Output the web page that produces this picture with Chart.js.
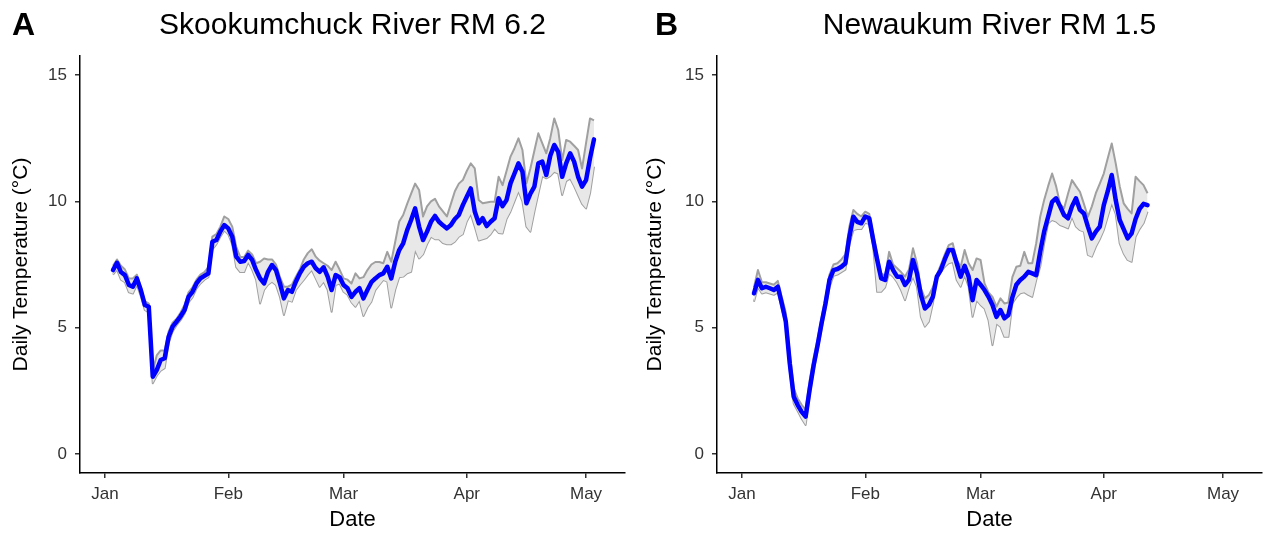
<!DOCTYPE html>
<html>
<head>
<meta charset="utf-8">
<script src="https://cdn.jsdelivr.net/npm/chart.js@4.4.1/dist/chart.umd.min.js"></script>
<style>
  html, body { margin: 0; padding: 0; background: #fff; }
  #wrap { position: relative; width: 1268px; height: 533px; }
  canvas { position: absolute; top: 0; }
</style>
</head>
<body>
<div id="wrap">
  <canvas id="chartA" width="634" height="533" style="left:0"></canvas>
  <canvas id="chartB" width="634" height="533" style="left:634px"></canvas>
</div>
<script>
// month ticks, as day offsets from Jan 1
const monthLabels = ['Jan', 'Feb', 'Mar', 'Apr', 'May'];
const monthDays = [0, 31, 60, 91, 121];
const yTicks = [0, 5, 10, 15];

// Skookumchuck River RM 6.2, daily values from Jan 3 (day 2)
const startDayA = 2;
const meanA = [7.28, 7.57, 7.20, 7.08, 6.69, 6.62, 6.95, 6.49, 5.90, 5.83,
  3.06, 3.32, 3.72, 3.79, 4.64, 5.04, 5.24, 5.45, 5.70, 6.22,
  6.42, 6.75, 6.95, 7.05, 7.15, 8.40, 8.47, 8.80, 9.06, 8.93,
  8.60, 7.81, 7.61, 7.64, 7.88, 7.68, 7.28, 6.95, 6.75, 7.21,
  7.48, 7.28, 6.75, 6.16, 6.49, 6.42, 6.82, 7.15, 7.41, 7.55,
  7.61, 7.35, 7.21, 7.39, 7.02, 6.49, 7.08, 7.00, 6.69, 6.56,
  6.22, 6.42, 6.56, 6.16, 6.49, 6.80, 6.95, 7.08, 7.15, 7.41,
  6.95, 7.61, 8.07, 8.34, 8.86, 9.26, 9.72, 9.00, 8.47, 8.80,
  9.19, 9.42, 9.19, 9.05, 8.93, 9.06, 9.30, 9.46, 9.85, 10.18,
  10.51, 9.60, 9.13, 9.33, 9.02, 9.19, 9.33, 10.12, 9.81, 10.05,
  10.71, 11.10, 11.50, 11.17, 9.92, 10.30, 10.58, 11.50, 11.57, 11.04,
  11.80, 12.23, 11.96, 10.97, 11.50, 11.90, 11.57, 10.97, 10.58, 10.84,
  11.70, 12.45];
const maxA = [7.45, 7.70, 7.45, 7.30, 6.95, 6.95, 7.10, 6.60, 6.05, 5.95,
  3.30, 3.90, 4.10, 4.10, 4.85, 5.20, 5.35, 5.60, 5.90, 6.40,
  6.60, 6.90, 7.10, 7.20, 7.40, 8.60, 8.70, 9.00, 9.40, 9.30,
  9.00, 8.20, 7.80, 7.80, 8.05, 7.90, 7.55, 7.61, 7.74, 7.70,
  7.70, 7.50, 7.00, 6.62, 6.62, 6.70, 7.02, 7.30, 7.70, 7.95,
  8.10, 7.81, 7.65, 7.55, 7.45, 7.28, 7.61, 7.30, 6.95, 6.90,
  6.75, 7.15, 6.95, 7.00, 7.28, 7.50, 7.60, 7.60, 7.55, 8.00,
  7.61, 8.40, 9.20, 9.46, 9.90, 10.30, 10.70, 10.45, 9.40, 9.80,
  10.00, 10.10, 9.80, 9.60, 9.40, 9.90, 10.40, 10.70, 10.84, 11.20,
  11.50, 11.30, 10.05, 9.92, 9.95, 9.98, 9.98, 10.97, 10.64, 11.20,
  11.77, 12.10, 12.49, 12.03, 10.71, 11.30, 12.00, 12.69, 12.29, 11.90,
  12.50, 13.28, 12.82, 11.63, 12.43, 12.36, 12.20, 12.03, 11.30, 12.30,
  13.28, 13.20];
const minA = [7.10, 7.30, 6.90, 6.80, 6.40, 6.35, 6.70, 6.25, 5.70, 5.60,
  2.80, 3.10, 3.30, 3.40, 4.40, 4.85, 5.10, 5.30, 5.55, 6.00,
  6.20, 6.55, 6.75, 6.90, 7.00, 8.10, 8.30, 8.60, 8.85, 8.70,
  8.30, 7.40, 7.20, 7.20, 7.60, 7.30, 6.90, 5.96, 6.49, 6.70,
  6.82, 6.69, 6.22, 5.50, 6.09, 6.03, 6.49, 6.70, 6.89, 7.10,
  7.28, 6.95, 6.62, 6.82, 6.50, 5.63, 6.69, 6.75, 6.42, 6.30,
  6.00, 5.83, 6.09, 5.46, 5.80, 6.03, 6.49, 6.69, 6.89, 6.82,
  5.80, 6.50, 7.00, 7.02, 7.15, 7.21, 8.07, 7.74, 7.90, 8.30,
  8.60, 8.50, 8.50, 8.35, 8.30, 8.30, 8.40, 8.60, 8.70, 9.20,
  9.50, 9.00, 8.45, 8.50, 8.55, 8.70, 8.93, 8.75, 8.73, 9.30,
  9.60, 10.00, 10.40, 10.00, 9.00, 8.80, 9.59, 10.30, 11.00, 10.91,
  11.00, 11.17, 11.10, 10.25, 10.80, 10.90, 10.60, 10.25, 9.90, 9.72,
  10.32, 11.37];

// Newaukum River RM 1.5, daily values from Jan 4 (day 3)
const startDayB = 3;
const meanB = [6.36, 6.89, 6.56, 6.62, 6.56, 6.49, 6.62, 5.96, 5.25, 3.59,
  2.27, 1.94, 1.67, 1.48, 2.55, 3.50, 4.30, 5.17, 5.96, 6.89,
  7.28, 7.32, 7.41, 7.55, 8.60, 9.39, 9.19, 9.13, 9.40, 9.33,
  8.47, 7.68, 6.95, 6.89, 7.61, 7.28, 7.02, 7.02, 6.69, 6.89,
  7.68, 7.15, 6.29, 5.76, 5.90, 6.22, 7.02, 7.28, 7.70, 8.07,
  8.07, 7.55, 7.02, 7.45, 7.02, 6.09, 6.89, 6.70, 6.49, 6.22,
  5.90, 5.43, 5.70, 5.37, 5.50, 6.20, 6.70, 6.89, 7.02, 7.21,
  7.15, 7.08, 8.00, 8.80, 9.39, 9.98, 10.12, 9.80, 9.46, 9.33,
  9.80, 10.12, 9.66, 9.52, 9.00, 8.53, 8.80, 9.00, 9.85, 10.40,
  11.04, 10.05, 9.26, 8.90, 8.53, 8.73, 9.30, 9.70, 9.90, 9.85];
const maxB = [6.60, 7.28, 6.80, 6.80, 6.75, 6.70, 6.85, 6.20, 5.60, 4.00,
  2.60, 2.20, 1.95, 1.75, 2.90, 3.80, 4.55, 5.40, 6.20, 7.10,
  7.50, 7.55, 7.70, 7.90, 9.00, 9.66, 9.50, 9.40, 9.59, 9.50,
  8.70, 7.90, 7.15, 7.05, 8.00, 7.50, 7.35, 7.20, 7.02, 7.30,
  8.14, 7.55, 6.56, 6.16, 6.29, 6.60, 7.10, 7.48, 7.90, 8.27,
  8.34, 7.68, 7.41, 8.07, 7.55, 7.28, 7.74, 7.68, 6.75, 6.40,
  6.22, 5.83, 6.16, 5.96, 6.00, 7.00, 7.41, 7.45, 8.00, 7.55,
  7.55, 8.34, 9.39, 10.05, 10.60, 11.10, 10.60, 9.90, 9.72, 10.30,
  10.84, 10.60, 10.38, 9.90, 9.39, 9.80, 10.32, 10.70, 11.10, 11.70,
  12.29, 11.50, 10.60, 9.92, 9.70, 9.52, 10.97, 10.80, 10.64, 10.32];
const minB = [6.03, 6.60, 6.35, 6.40, 6.35, 6.30, 6.40, 5.75, 5.10, 3.30,
  2.00, 1.70, 1.40, 1.15, 2.30, 3.30, 4.10, 4.95, 5.75, 6.60,
  7.05, 7.10, 7.20, 7.30, 8.30, 8.86, 8.90, 8.90, 9.15, 9.10,
  8.20, 6.42, 6.42, 6.60, 7.15, 7.02, 6.80, 6.49, 6.09, 6.62,
  7.02, 6.62, 5.43, 5.04, 5.24, 5.96, 6.89, 7.21, 7.41, 7.55,
  7.60, 6.89, 6.62, 7.08, 6.62, 5.43, 6.09, 5.90, 5.76, 5.30,
  4.31, 5.17, 5.04, 4.64, 4.64, 5.96, 6.20, 6.36, 6.40, 6.30,
  6.22, 6.89, 7.41, 8.34, 9.13, 9.26, 9.20, 9.06, 9.00, 8.93,
  9.39, 9.00, 8.86, 8.80, 7.88, 7.81, 8.20, 8.50, 8.86, 9.39,
  9.92, 9.50, 8.34, 7.94, 7.68, 7.61, 8.60, 8.90, 9.13, 9.59];

const FONT = '"Liberation Sans", Arial, Helvetica, sans-serif';

const panelTitles = {
  id: 'panelTitles',
  afterDraw(chart, args, opts) {
    const {ctx, chartArea} = chart;
    ctx.save();
    ctx.fillStyle = '#000';
    ctx.textBaseline = 'middle';
    ctx.textAlign = 'center';
    ctx.font = '30px ' + FONT;
    ctx.fillText(opts.text, (chartArea.left + chartArea.right) / 2, 26);
    ctx.textAlign = 'left';
    ctx.font = 'bold 32px ' + FONT;
    ctx.fillText(opts.letter, opts.letterX, 26);
    ctx.restore();
  }
};

function toPoints(start, values) {
  return values.map((v, i) => ({x: start + i, y: v}));
}

function makeChart(id, title, letter, letterX, axisWidth, start, mean, lo, hi) {
  const ctx = document.getElementById(id).getContext('2d');
  const grey = {borderColor: '#a0a0a0', borderWidth: 2, pointRadius: 0, borderJoinStyle: 'round'};
  return new Chart(ctx, {
    type: 'line',
    data: {
      datasets: [
        // order: higher drawn first, so the mean line ends up on top
        {...grey, data: toPoints(start, lo), fill: false, order: 2},
        {...grey, data: toPoints(start, hi), fill: '-1', backgroundColor: '#e8e8e8', order: 1},
        {data: toPoints(start, mean), borderColor: '#0000ff', borderWidth: 4.5, pointRadius: 0,
          borderJoinStyle: 'round', borderCapStyle: 'round', fill: false, order: 0}
      ]
    },
    options: {
      responsive: false,
      animation: false,
      devicePixelRatio: 1,
      layout: {padding: {top: 56, right: 634 - axisWidth - 545, bottom: 0, left: 0}},
      plugins: {
        legend: {display: false},
        tooltip: {enabled: false},
        panelTitles: {text: title, letter: letter, letterX: letterX}
      },
      scales: {
        x: {
          type: 'linear',
          min: -6.3,
          max: 130.8,
          afterBuildTicks: (scale) => { scale.ticks = monthDays.map(v => ({value: v})); },
          afterFit: (scale) => { scale.height = 60; },
          grid: {drawOnChartArea: false, drawTicks: true, tickLength: 5, color: '#333', lineWidth: 1.5},
          border: {display: true, color: '#000', width: 1.5},
          ticks: {
            color: '#333',
            padding: 6,
            maxRotation: 0,
            font: {family: FONT, size: 17},
            callback: (v) => monthLabels[monthDays.indexOf(v)]
          },
          title: {display: true, text: 'Date', color: '#000', font: {family: FONT, size: 22}, padding: {top: 0, bottom: 0}}
        },
        y: {
          min: -0.75,
          max: 15.75,
          afterBuildTicks: (scale) => { scale.ticks = yTicks.map(v => ({value: v})); },
          afterFit: (scale) => { scale.width = axisWidth; },
          grid: {drawOnChartArea: false, drawTicks: true, tickLength: 5, color: '#333', lineWidth: 1.5},
          border: {display: true, color: '#000', width: 1.5},
          ticks: {color: '#333', padding: 8, font: {family: FONT, size: 17}},
          title: {display: true, text: 'Daily Temperature (°C)', color: '#000',
            font: {family: FONT, size: 21}, padding: {top: 9, bottom: 0}}
        }
      }
    },
    plugins: [panelTitles]
  });
}

makeChart('chartA', 'Skookumchuck River RM 6.2', 'A', 12, 80, startDayA, meanA, minA, maxA);
makeChart('chartB', 'Newaukum River RM 1.5', 'B', 21, 83, startDayB, meanB, minB, maxB);
</script>
</body>
</html>
